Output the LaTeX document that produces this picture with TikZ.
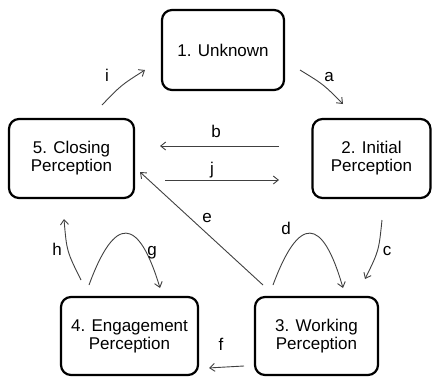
\documentclass[tikz,border=0pt]{standalone}
\usepackage{fontspec}
\setmainfont{Liberation Sans}
\usetikzlibrary{arrows.meta}
\definecolor{linkgray}{HTML}{404040}
\tikzset{
  stagebox/.style={draw=black, line width=2.2pt, rounded corners=10pt,
    align=center, inner sep=0pt, font=\fontsize{17}{18}\selectfont},
  link/.style={draw=linkgray, line width=0.9pt,
    -{Straight Barb[length=5pt,width=8pt]}},
  tag/.style={anchor=base, inner sep=0pt, font=\fontsize{17}{18}\selectfont}
}
\begin{document}
\begin{tikzpicture}[x=1pt,y=-1pt]
\useasboundingbox (0,0) rectangle (432,376);

% stages
\node[stagebox, minimum width=122pt, minimum height=80pt] (unknown) at (223,50) {1. Unknown};
\node[stagebox, minimum width=118pt, minimum height=79pt] (initial) at (371.5,158.5) {2. Initial\\Perception};
\node[stagebox, minimum width=123pt, minimum height=78pt] (working) at (316.5,336) {3. Working\\Perception};
\node[stagebox, minimum width=137pt, minimum height=78pt] (engage) at (129.5,336) {4. Engagement\\Perception};
\node[stagebox, minimum width=125pt, minimum height=79pt] (closing) at (71.5,158.5) {5. Closing\\Perception};

% connector end points
\coordinate (a0) at (300,70);  \coordinate (a1) at (343,104);
\coordinate (b0) at (279,146); \coordinate (b1) at (160,146);
\coordinate (c0) at (382,220); \coordinate (c1) at (365,279);
\coordinate (d0) at (273,285); \coordinate (d1) at (343,288);
\coordinate (e0) at (263,285); \coordinate (e1) at (140,172);
\coordinate (f0) at (244,366); \coordinate (f1) at (209,368);
\coordinate (g0) at (89,285);  \coordinate (g1) at (160,288);
\coordinate (h0) at (81,280);  \coordinate (h1) at (64,219);
\coordinate (i0) at (102,105); \coordinate (i1) at (145,70);
\coordinate (j0) at (165,180); \coordinate (j1) at (279,180);

% transitions
\draw[link] (a0) .. controls (323.5,84.4) .. (a1);
\draw[link] (b0) -- (b1);
\draw[link] (c0) .. controls (378.8,251) .. (c1);
\draw[link] (d0) .. controls (299,215) and (322.3,216) .. (d1);
\draw[link] (e0) -- (e1);
\draw[link] (f0) .. controls (227,366) .. (f1);
\draw[link] (g0) .. controls (114.7,215) and (138.3,216) .. (g1);
\draw[link] (h0) .. controls (66.7,251.2) .. (h1);
\draw[link] (i0) .. controls (121.4,84.9) .. (i1);
\draw[link] (j0) -- (j1);

% transition labels
\node[tag] (la) at (329,81) {a};
\node[tag] (lb) at (216,137) {b};
\node[tag] (lc) at (387,255) {c};
\node[tag] (ld) at (286,234) {d};
\node[tag] (le) at (207,222) {e};
\node[tag] (lf) at (221,350) {f};
\node[tag] (lg) at (152,255) {g};
\node[tag] (lh) at (57,255) {h};
\node[tag] (li) at (107,81) {i};
\node[tag] (lj) at (212,174) {j};
\end{tikzpicture}
\end{document}
